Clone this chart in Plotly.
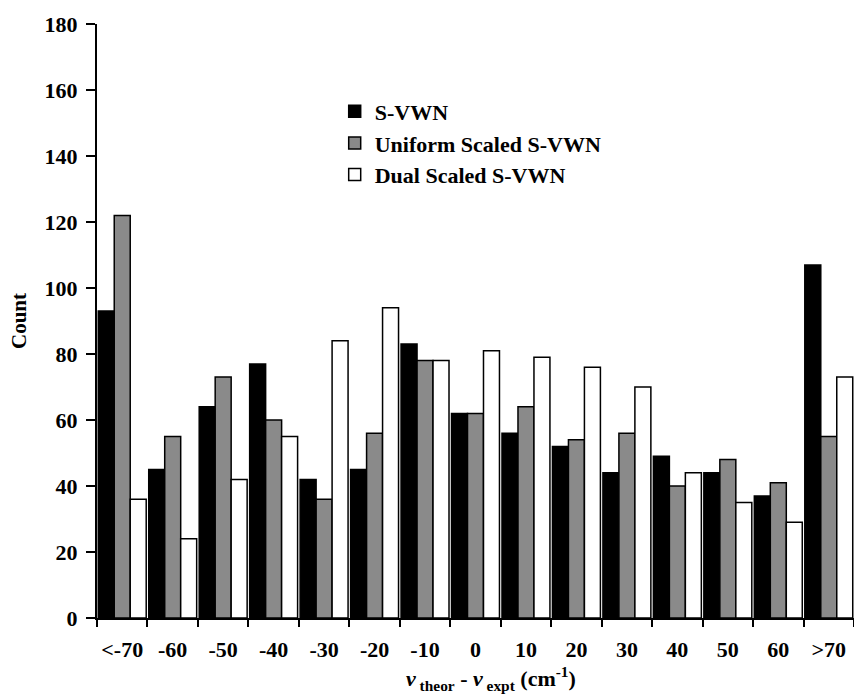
import plotly.graph_objects as go

categories = ["<-70", "-60", "-50", "-40", "-30", "-20", "-10", "0", "10", "20", "30", "40", "50", "60", ">70"]
svwn = [93, 45, 64, 77, 42, 45, 83, 62, 56, 52, 44, 49, 44, 37, 107]
uniform_scaled = [122, 55, 73, 60, 36, 56, 78, 62, 64, 54, 56, 40, 48, 41, 55]
dual_scaled = [36, 24, 42, 55, 84, 94, 78, 81, 79, 76, 70, 44, 35, 29, 73]
y_ticks = [0, 20, 40, 60, 80, 100, 120, 140, 160, 180]

FONT = "Liberation Serif, Times New Roman, serif"
line = dict(color="black", width=1.5)

fig = go.Figure()
fig.add_trace(go.Bar(x=categories, y=svwn, name="S-VWN",
                     marker=dict(color="#000000", line=line)))
fig.add_trace(go.Bar(x=categories, y=uniform_scaled, name="Uniform Scaled S-VWN",
                     marker=dict(color="#8a8a8a", line=line)))
fig.add_trace(go.Bar(x=categories, y=dual_scaled, name="Dual Scaled S-VWN",
                     marker=dict(color="#ffffff", line=line)))

fig.update_layout(
    width=854, height=695,
    margin=dict(l=97, r=0, t=24, b=77),
    plot_bgcolor="white", paper_bgcolor="white",
    barmode="group", bargap=0.05, bargroupgap=0,
    font=dict(family=FONT, size=22, color="black", weight="bold"),
    showlegend=True,
    legend=dict(x=0.314, y=0.888, xanchor="left", yanchor="top",
                bgcolor="rgba(0,0,0,0)",
                font=dict(family=FONT, size=22, color="black", weight="bold"),
                tracegroupgap=6),
    annotations=[dict(
        text="<i>ν</i><sub> theor</sub> - <i>ν</i><sub> expt</sub> (cm<sup>-1</sup>)",
        xref="paper", yref="paper", x=(491 - 97) / 757, y=-0.102,
        xanchor="center", yanchor="middle", showarrow=False,
        font=dict(family=FONT, size=22, color="black", weight="bold"))],
)
fig.update_xaxes(
    type="category",
    showline=True, linecolor="black", linewidth=2,
    ticks="outside", tickson="boundaries", ticklen=7, tickwidth=2, tickcolor="black",
    ticklabelstandoff=11, tickangle=0,
    showgrid=False, zeroline=False,
    tickfont=dict(family=FONT, size=22, color="black", weight="bold"),
)
fig.update_yaxes(
    range=[0, 180], tickvals=y_ticks,
    showline=True, linecolor="black", linewidth=2,
    ticks="outside", ticklen=9, tickwidth=2, tickcolor="black",
    ticklabelstandoff=4,
    showgrid=False, zeroline=False,
    tickfont=dict(family=FONT, size=22, color="black", weight="bold"),
    title=dict(text="Count", font=dict(family=FONT, size=21, color="black", weight="bold"),
               standoff=12),
)

fig.write_html("out.html", config={"displayModeBar": False},
               post_script="document.body.style.margin='0';")
